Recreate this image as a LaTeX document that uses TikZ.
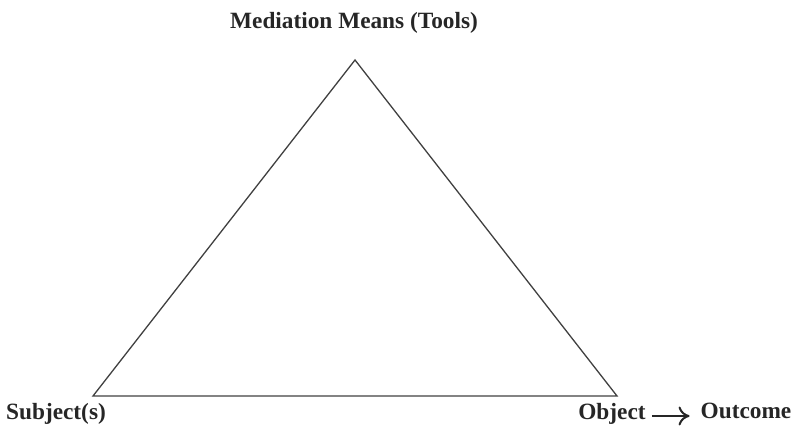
\documentclass[tikz,border=0pt]{standalone}
\usepackage{fontspec}
\setmainfont{Liberation Serif}
\usepackage{tikz}
\usetikzlibrary{positioning,arrows.meta}

\begin{document}
\begin{tikzpicture}[
  x=1pt, y=1pt,
  lbl/.style={inner sep=2pt, font=\fontsize{23.3}{28}\selectfont\bfseries, text=black!85},
  edge/.style={line width=1.3pt, draw=black!75, line join=miter},
  arr/.style={-{To[length=11pt, width=19pt, line width=2pt]}, line width=2.4pt, black!85}
]
\useasboundingbox (0,0) rectangle (794,433);

% triangle corners
\coordinate (Tools) at (355,373);
\coordinate (Subj) at (93,37);
\coordinate (Obj) at (617,37);

\draw[edge] (Tools) -- (Subj) -- (Obj) -- cycle;

\node[lbl] (toolsLbl) at (354,410) {Mediation Means (Tools)};
\node[lbl] (subjLbl) at (56,19) {Subject(s)};
\node[lbl] (objLbl) at (612,19) {Object};
\node[lbl] (outLbl) at (746,22) {Outcome};

% arrow Object -> Outcome
\coordinate (arrS) at ([xshift=4pt, yshift=-2pt]objLbl.east);
\coordinate (arrE) at ([xshift=-9pt]outLbl.west |- arrS);
\draw[arr] (arrS) -- (arrE);

\end{tikzpicture}
\end{document}
